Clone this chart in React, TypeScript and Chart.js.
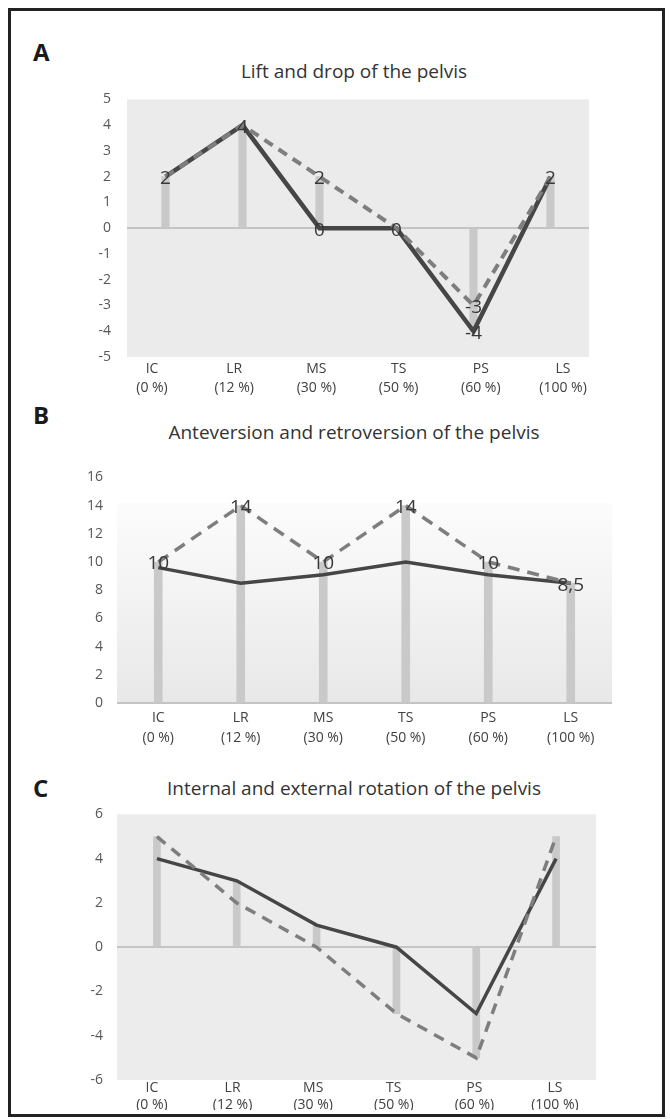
import React, { useEffect, useRef } from "react";
import { Chart, registerables } from "chart.js";

Chart.register(...registerables);

// ---- data ----
const phaseNames = ["IC", "LR", "MS", "TS", "PS", "LS"];
const phasePercents = ["(0 %)", "(12 %)", "(30 %)", "(50 %)", "(60 %)", "(100 %)"];

const liftSolid = [2, 4, 0, 0, -4, 2];
const liftDashed = [2, 4, 2, 0, -3, 2];
const liftBars = [2, 4, 2, 0, -4, 2];
const liftDashedLabeled = [0, 1, 2, 3, 4, 5];
const liftSolidLabeled = [2, 4];
const liftTicks = { min: -5, max: 5, step: 1 };

const anteSolid = [9.6, 8.5, 9.1, 10, 9.1, 8.5];
const anteDashed = [10, 14, 10, 14, 10, 8.5];
const anteBars = [10, 14, 10, 14, 10, 8.5];
const anteDashedLabeled = [0, 1, 2, 3, 4, 5];
const anteSolidLabeled: number[] = [];
const anteTicks = { min: 0, max: 16, step: 2 };

const rotSolid = [4, 3, 1, 0, -3, 4];
const rotDashed = [5, 2, 0, -3, -5, 5];
const rotBars = [5, 3, 1, -3, -5, 5];
const rotDashedLabeled: number[] = [];
const rotSolidLabeled: number[] = [];
const rotTicks = { min: -6, max: 6, step: 2 };

const FONT = "'Open Sans', 'Noto Sans', sans-serif";

const bgPlugin = {
  id: "plotBg",
  beforeDraw(chart: any, _args: any, opts: any) {
    const { ctx, chartArea: a, scales } = chart;
    ctx.save();
    if (opts.gradientFrom != null) {
      const top = scales.y.getPixelForValue(opts.gradientFrom);
      const g = ctx.createLinearGradient(0, top, 0, a.bottom);
      g.addColorStop(0, opts.top);
      g.addColorStop(1, opts.bottom);
      ctx.fillStyle = g;
      ctx.fillRect(a.left, top, a.width, a.bottom - top);
    } else {
      ctx.fillStyle = opts.color;
      ctx.fillRect(a.left, a.top, a.width, a.height);
    }
    ctx.restore();
  },
};

const labelPlugin = {
  id: "pointLabels",
  afterDatasetsDraw(chart: any, _args: any, opts: any) {
    const { ctx } = chart;
    ctx.save();
    ctx.font = `19px ${FONT}`;
    ctx.fillStyle = "#383838";
    ctx.textAlign = "center";
    ctx.textBaseline = "middle";
    (opts.items || []).forEach(([ds, i]: [number, number]) => {
      const meta = chart.getDatasetMeta(ds);
      const el = meta.data[i];
      const v = chart.data.datasets[ds].data[i];
      ctx.fillText(String(v).replace(".", ","), el.x, el.y + 2);
    });
    ctx.restore();
  },
};

type Layout = {
  left: number; top: number; width: number; height: number;
  yAxisW: number; padTop: number; padRight: number; padBottom: number;
  xAxisH: number; yTickPad: number; xTickPad: number; xLineH: number;
  labelMin: number; labelMax: number;
  solidW: number; dashedW: number; dash: number[]; barW: number;
};

type PanelProps = {
  solid: number[]; dashed: number[]; bars: number[];
  solidLabeled: number[]; dashedLabeled: number[];
  ticks: { min: number; max: number; step: number };
  bg: any; layout: Layout;
};

function PanelChart(p: PanelProps) {
  const ref = useRef<HTMLCanvasElement>(null);
  useEffect(() => {
    const L = p.layout;
    const items: [number, number][] = [];
    p.dashedLabeled.forEach((i) => items.push([0, i]));
    p.solidLabeled.forEach((i) => items.push([1, i]));
    const chart = new Chart(ref.current as HTMLCanvasElement, {
      type: "bar",
      data: {
        labels: phaseNames,
        datasets: [
          {
            type: "line",
            data: p.dashed,
            borderColor: "#7e7e7e",
            borderWidth: L.dashedW,
            borderDash: L.dash,
            pointRadius: 0,
            tension: 0,
            fill: false,
            order: 1,
            xAxisID: "x",
            yAxisID: "y",
          } as any,
          {
            type: "line",
            data: p.solid,
            borderColor: "#464646",
            borderWidth: L.solidW,
            pointRadius: 0,
            tension: 0,
            fill: false,
            order: 2,
            xAxisID: "x",
            yAxisID: "y",
          } as any,
          {
            type: "bar",
            data: p.bars,
            backgroundColor: "#c9c9c9",
            barThickness: L.barW,
            order: 3,
            xAxisID: "x",
            yAxisID: "y",
          } as any,
        ],
      },
      options: {
        animation: false,
        responsive: false,
        events: [],
        layout: {
          padding: { left: 0, top: L.padTop, right: L.padRight, bottom: L.padBottom },
        },
        scales: {
          x: { type: "category", offset: true, display: false },
          xl: {
            type: "linear",
            axis: "x",
            position: "bottom",
            offset: false,
            bounds: "data",
            min: L.labelMin,
            max: L.labelMax,
            afterBuildTicks: (s: any) => {
              s.ticks = phaseNames.map((_, i) => ({ value: i }));
            },
            afterFit: (s: any) => {
              s.height = L.xAxisH;
            },
            grid: { display: false, drawTicks: false, offset: false },
            border: { display: false },
            ticks: {
              autoSkip: false,
              maxRotation: 0,
              padding: L.xTickPad,
              color: "#404040",
              font: { family: FONT, size: 14, lineHeight: L.xLineH },
              callback: (v: any) => {
                const i = Math.round(Number(v));
                return [phaseNames[i], phasePercents[i]];
              },
            },
          } as any,
          y: {
            min: p.ticks.min,
            max: p.ticks.max,
            afterFit: (s: any) => {
              s.width = L.yAxisW;
            },
            ticks: {
              stepSize: p.ticks.step,
              padding: L.yTickPad,
              color: "#575757",
              font: { family: FONT, size: 14 },
            },
            grid: {
              drawTicks: false,
              lineWidth: 2,
              color: (c: any) => (c.tick && c.tick.value === 0 ? "#c4c4c4" : "rgba(0,0,0,0)"),
            },
            border: { display: false },
          },
        },
        plugins: {
          legend: { display: false },
          tooltip: { enabled: false },
          title: { display: false },
          plotBg: p.bg,
          pointLabels: { items },
        } as any,
      },
      plugins: [bgPlugin, labelPlugin],
    });
    return () => chart.destroy();
  }, []);
  const L = p.layout;
  return (
    <canvas
      ref={ref}
      width={L.width}
      height={L.height}
      style={{ position: "absolute", left: L.left, top: L.top, width: L.width, height: L.height }}
    />
  );
}

const letterStyle = (top: number): React.CSSProperties => ({
  position: "absolute",
  left: 33,
  top,
  fontFamily: FONT,
  fontWeight: 700,
  fontSize: 24,
  lineHeight: "1",
  color: "#1a1a1a",
});

const titleStyle = (top: number): React.CSSProperties => ({
  position: "absolute",
  left: 54,
  width: 600,
  top,
  textAlign: "center",
  fontFamily: FONT,
  fontSize: 19,
  lineHeight: "1",
  color: "#333",
  whiteSpace: "nowrap",
});

export default function App() {
  return (
    <div style={{ position: "absolute", left: 0, top: 0, width: 670, height: 1119, background: "#fff", overflow: "hidden" }}>
      <div
        style={{
          position: "absolute", left: 8, top: 8, width: 657, height: 1109,
          border: "3px solid #222", boxSizing: "border-box",
        }}
      />
      <div style={letterStyle(40)}>A</div>
      <div style={titleStyle(62)}>Lift and drop of the pelvis</div>
      <PanelChart
        solid={liftSolid} dashed={liftDashed} bars={liftBars}
        solidLabeled={liftSolidLabeled} dashedLabeled={liftDashedLabeled}
        ticks={liftTicks}
        bg={{ color: "#ebebeb" }}
        layout={{
          left: 60, top: 75, width: 570, height: 330,
          yAxisW: 67, padTop: 18, padRight: 41, padBottom: 8, xAxisH: 40,
          yTickPad: 16, xTickPad: 2, xLineH: 1.36,
          labelMin: -0.304, labelMax: 5.316,
          solidW: 4.5, dashedW: 4, dash: [10, 7], barW: 7.5,
        }}
      />

      <div style={letterStyle(403)}>B</div>
      <div style={titleStyle(423)}>Anteversion and retroversion of the pelvis</div>
      <PanelChart
        solid={anteSolid} dashed={anteDashed} bars={anteBars}
        solidLabeled={anteSolidLabeled} dashedLabeled={anteDashedLabeled}
        ticks={anteTicks}
        bg={{ gradientFrom: 14.2, top: "#fcfcfc", bottom: "#e8e8e8" }}
        layout={{
          left: 60, top: 455, width: 570, height: 300,
          yAxisW: 57, padTop: 19, padRight: 18, padBottom: 8, xAxisH: 44,
          yTickPad: 14, xTickPad: 5, xLineH: 1.43,
          labelMin: -0.5, labelMax: 5.5,
          solidW: 3.5, dashedW: 3.5, dash: [12, 8], barW: 8,
        }}
      />

      <div style={letterStyle(776)}>C</div>
      <div style={titleStyle(779)}>Internal and external rotation of the pelvis</div>
      <PanelChart
        solid={rotSolid} dashed={rotDashed} bars={rotBars}
        solidLabeled={rotSolidLabeled} dashedLabeled={rotDashedLabeled}
        ticks={rotTicks}
        bg={{ color: "#ececec" }}
        layout={{
          left: 60, top: 792, width: 570, height: 326,
          yAxisW: 57, padTop: 19, padRight: 34, padBottom: 8, xAxisH: 30,
          yTickPad: 14, xTickPad: 0, xLineH: 1.21,
          labelMin: -0.434, labelMax: 5.509,
          solidW: 3.5, dashedW: 3.5, dash: [11, 8], barW: 7,
        }}
      />
    </div>
  );
}
